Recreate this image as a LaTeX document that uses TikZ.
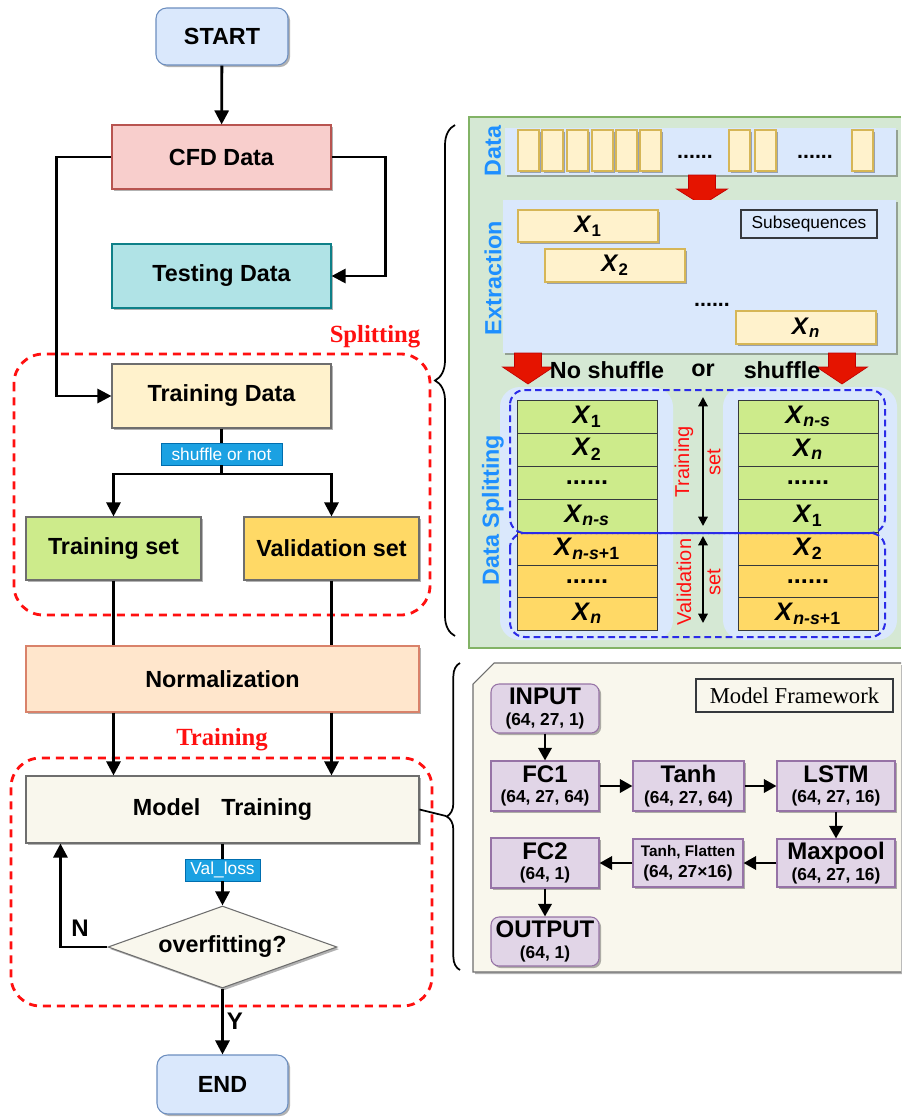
\documentclass[tikz,border=0pt]{standalone}
\usepackage{fontspec}
\setmainfont{Liberation Sans}
\newfontfamily\seriffam{Liberation Serif}
\usetikzlibrary{arrows.meta,shadows,decorations.pathreplacing,shapes.geometric,calc}

\definecolor{startfill}{HTML}{DAE8FC}
\definecolor{startline}{HTML}{6C8EBF}
\definecolor{cfdfill}{HTML}{F8CECC}
\definecolor{cfdline}{HTML}{B85450}
\definecolor{testfill}{HTML}{B0E3E6}
\definecolor{testline}{HTML}{0E8088}
\definecolor{trdfill}{HTML}{FFF2CC}
\definecolor{trdline}{HTML}{D6B656}
\definecolor{greenfill}{HTML}{CDEB8B}
\definecolor{orangefill}{HTML}{FFD966}
\definecolor{normfill}{HTML}{FFE6CC}
\definecolor{normline}{HTML}{D9826A}
\definecolor{mtfill}{HTML}{F9F7ED}
\definecolor{grayline}{HTML}{6E6E6E}
\definecolor{tagfill}{HTML}{1BA1E2}
\definecolor{tagline}{HTML}{006EAF}
\definecolor{panelgreen}{HTML}{D5E8D4}
\definecolor{panelgreenline}{HTML}{82B366}
\definecolor{labelblue}{HTML}{1E8FFF}
\definecolor{redarrow}{HTML}{E51400}
\definecolor{redarrowline}{HTML}{C00000}
\definecolor{dashblue}{HTML}{2B2BE8}
\definecolor{purplefill}{HTML}{E1D5E7}
\definecolor{purpleline}{HTML}{9673A6}
\definecolor{darkline}{HTML}{36393D}
\definecolor{brightred}{HTML}{FF1010}

% subsequence symbol X with a subscript
\newcommand\xs[1]{\textit{X}\textsubscript{#1}}
% layer name in the framework boxes
\newcommand\bigword{\fontsize{18}{18}\selectfont\bfseries}
% box node spanning the corners (#3,#4)-(#5,#6): style, name, x1, y1, x2, y2, text
\newcommand\boxnode[7]{%
  \pgfmathsetmacro\bw{(#5-(#3))*0.75}%
  \pgfmathsetmacro\bh{(#6-(#4))*0.75}%
  \pgfmathsetmacro\bx{((#3)+(#5))/2}%
  \pgfmathsetmacro\by{((#4)+(#6))/2}%
  \node[#1, minimum width=\bw pt, minimum height=\bh pt] (#2) at (\bx,\by) {#7};}
% fat red block arrow: centre x, top y, neck y, tip y
\newcommand\fatarrow[4]{%
  \draw[fill=redarrow, draw=redarrowline, line width=0.5pt]
    (#1-13.5,#2) -- (#1+13.5,#2) -- (#1+13.5,#3) -- (#1+25.5,#3) -- (#1,#4)
    -- (#1-25.5,#3) -- (#1-13.5,#3) -- cycle;}

\tikzset{
  shade box/.style={drop shadow={shadow xshift=1.6pt,shadow yshift=-1.6pt,opacity=0.3,fill=black}},
  flowbox/.style={draw, line width=0.8pt, inner sep=0pt, shade box,
    font=\fontsize{17.5}{21}\selectfont\bfseries},
  tagbox/.style={draw=tagline, fill=tagfill, text=white, line width=0.6pt, inner sep=0pt,
    font=\fontsize{13}{15}\selectfont},
  decbox/.style={diamond, draw=grayline, fill=mtfill, line width=0.8pt, aspect=2.8,
    minimum width=171.75pt, minimum height=61.5pt, inner sep=1pt, shade box,
    font=\fontsize{17.5}{21}\selectfont\bfseries},
  conn/.style={line width=2.1pt},
  arr/.style={line width=2.1pt, -{Triangle[length=10.5pt,width=10.5pt]}},
  farr/.style={line width=2pt, -{Triangle[length=9.5pt,width=10pt]}},
  darr/.style={line width=1.5pt, {Triangle[length=7pt,width=7pt]}-{Triangle[length=7pt,width=7pt]}},
  reddash/.style={draw=brightred, line width=2.1pt, dash pattern=on 6pt off 4.5pt, rounded corners=22pt},
  bluedash/.style={draw=dashblue, line width=1.5pt, dash pattern=on 5pt off 3pt, rounded corners=11pt},
  redtitle/.style={text=brightred, font=\seriffam\fontsize{18.5}{21}\selectfont\bfseries},
  stripbox/.style={fill=startfill, draw=none, inner sep=0pt, shade box},
  cellbox/.style={fill=trdfill, draw=trdline, line width=0.8pt, inner sep=0pt, shade box},
  segbox/.style={fill=trdfill, draw=trdline, line width=0.8pt, inner sep=0pt, shade box,
    font=\fontsize{18}{20}\selectfont\bfseries},
  rowbox/.style={draw=darkline, line width=0.6pt, inner sep=0pt,
    font=\fontsize{19}{22}\selectfont\bfseries},
  bgblue/.style={fill=startfill, draw=none, rounded corners=15pt, inner sep=0pt},
  sidelabel/.style={rotate=90, text=labelblue, font=\fontsize{17.5}{21}\selectfont\bfseries},
  setlabel/.style={rotate=90, text=brightred, font=\fontsize{15}{18}\selectfont},
  fwbox/.style={draw=purpleline, fill=purplefill, line width=0.8pt, inner sep=0pt, shade box,
    align=center, font=\fontsize{13}{15.5}\selectfont\bfseries},
  dotword/.style={font=\fontsize{16}{18}\selectfont\bfseries, anchor=base},
  plainbold/.style={font=\fontsize{17.5}{21}\selectfont\bfseries},
}

\begin{document}
\begin{tikzpicture}[x=0.75pt,y=-0.75pt]
\useasboundingbox (0,0) rectangle (901,1118);
\fill[white] (0,0) rectangle (901,1118);

% ---------------- left flow chart ----------------
\draw[reddash] (14,354) rectangle (430,615);
\draw[reddash] (11,758) rectangle (432,1006);
\node[redtitle] (splittitle) at (375,337) {Splitting};
\node[redtitle] (traintitle) at (222,740) {Training};

\boxnode{flowbox, rounded corners=8pt, fill=startfill, draw=startline}{start}{156}{8}{288}{65}{START}
\boxnode{flowbox, fill=cfdfill, draw=cfdline}{cfd}{112}{125}{331}{189}{CFD Data}
\boxnode{flowbox, fill=testfill, draw=testline}{test}{112}{244}{331}{308}{Testing Data}
\boxnode{flowbox, fill=trdfill, draw=grayline}{trd}{112}{364}{331}{428}{Training Data}
\boxnode{tagbox}{shuf}{161}{443}{282}{465}{shuffle or not}
\boxnode{flowbox, fill=greenfill, draw=grayline}{trs}{26}{517}{201}{580}{Training set}
\boxnode{flowbox, fill=orangefill, draw=grayline}{vals}{244}{517}{419}{580}{Validation set}
\boxnode{flowbox, fill=normfill, draw=normline}{norm}{26}{646}{419}{712}{Normalization}
\boxnode{flowbox, fill=mtfill, draw=grayline}{mt}{26}{776}{419}{843}{Model\hspace{0.9em}Training}
\boxnode{tagbox}{vl}{185}{859}{260}{881}{Val\_loss}
\node[decbox] (dia) at (222.5,947) {overfitting?};
\boxnode{flowbox, rounded corners=8pt, fill=startfill, draw=startline}{end}{157}{1055}{288}{1114}{END}

\draw[arr] (start) -- (cfd);
\draw[arr] (cfd.west) -- ++(-55,0) |- (trd.west);
\draw[arr] (cfd.east) -- ++(54,0) |- (test.east);
\draw[conn] (trd) -- (shuf);
\coordinate (fork) at (221.5,474);
\draw[conn] (shuf) -- (fork);
\draw[arr] (fork) -| (trs.north);
\draw[arr] (fork) -| (vals.north);
\draw[conn] (trs.south) -- (trs.south |- norm.north);
\draw[conn] (vals.south) -- (vals.south |- norm.north);
\draw[arr] (norm.south -| trs.south) -- (mt.north -| trs.south);
\draw[arr] (norm.south -| vals.south) -- (mt.north -| vals.south);
\draw[conn] (mt) -- (vl);
\draw[arr] (vl) -- (dia);
\draw[arr] (dia.west) -| ($(mt.south west)+(35,0)$);
\draw[arr] (dia) -- (end);
\node[font=\fontsize{18}{20}\selectfont\bfseries] (nlab) at (80,928) {N};
\node[font=\fontsize{18}{20}\selectfont\bfseries] (ylab) at (235,1021) {Y};

% ---------------- braces ----------------
\draw[decorate, decoration={brace, amplitude=15pt}, line width=1.3pt] (455,636) -- (455,125);
\draw[decorate, decoration={brace, amplitude=10pt}, line width=1.3pt] (460,970) -- (460,663);
\coordinate (b2tip) at (446,816);
\draw[line width=1.3pt] (mt.east) -- (b2tip);

% ---------------- data preparation panel ----------------
\fill[panelgreen] (469,117) rectangle (901,648);
\draw[panelgreenline, line width=0.8pt] (901,117) -- (469,117) -- (469,648) -- (901,648);

\node[sidelabel] (datalab) at (493,151) {Data};
\boxnode{stripbox}{datastrip}{505}{128}{896}{175}{}
\foreach \cx [count=\i] in {518,542,567,592,616,640,729,755,852}
  {\boxnode{cellbox}{cell\i}{\cx}{130}{\cx+21}{171}{}}
\node[dotword] (dots1) at (695,158) {......};
\node[dotword] (dots2) at (815,158) {......};

\fatarrow{702}{175}{189}{205}

\node[sidelabel] (extrlab) at (493,278) {Extraction};
\boxnode{stripbox}{extr}{503}{200}{896}{353}{}
\boxnode{segbox}{sx1}{518}{210}{658}{242}{\xs{1}}
\boxnode{segbox}{sx2}{545}{249}{685}{282}{\xs{2}}
\node[dotword] (dots3) at (712,306) {......};
\boxnode{segbox}{sxn}{736}{311}{876}{344}{\xs{\itshape n}}
\boxnode{draw=darkline, line width=0.8pt, inner sep=0pt, font=\fontsize{13}{15}\selectfont}{subs}{741}{210}{877}{238}{Subsequences}

\boxnode{bgblue}{lbg}{500}{387}{673}{640}{}
\boxnode{bgblue}{rbg}{723}{387}{897}{640}{}

\fatarrow{528}{353}{367}{384}
\fatarrow{842}{353}{367}{384}
\node[plainbold] (noshuf) at (607,370) {No shuffle};
\node[plainbold] (orword) at (703,370) {or};
\node[plainbold] (shufword) at (782,370) {shuffle};

\foreach \y/\c/\t [count=\i] in {
    400/greenfill/{\xs{1}}, 433/greenfill/{\xs{2}}, 466/greenfill/{......},
    499/greenfill/{\xs{\itshape n-s}}, 532/orangefill/{\xs{{\itshape n-s}+1}},
    565/orangefill/{......}, 597/orangefill/{\xs{\itshape n}}}
  {\boxnode{rowbox, fill=\c}{L\i}{517}{\y}{657}{\y+33}{\t}}
\foreach \y/\c/\t [count=\i] in {
    400/greenfill/{\xs{\itshape n-s}}, 433/greenfill/{\xs{\itshape n}}, 466/greenfill/{......},
    499/greenfill/{\xs{1}}, 532/orangefill/{\xs{2}},
    565/orangefill/{......}, 597/orangefill/{\xs{{\itshape n-s}+1}}}
  {\boxnode{rowbox, fill=\c}{R\i}{738}{\y}{878}{\y+33}{\t}}

\draw[bluedash] (510,390) rectangle (885,533);
\draw[bluedash] (510,533) rectangle (885,637);

\coordinate (ta) at (703,397);
\coordinate (tb) at (703,526);
\coordinate (va) at (703,536);
\coordinate (vb) at (703,623);
\draw[darr] (ta) -- (tb);
\draw[darr] (va) -- (vb);
\node[setlabel] (trlab) at (684,462) {Training};
\node[setlabel] (trset) at (714,462) {set};
\node[setlabel] (valab) at (684,582) {Validation};
\node[setlabel] (vaset) at (714,582) {set};

\node[sidelabel] (splitlab) at (493,510) {Data Splitting};

% ---------------- model framework panel ----------------
\path[fill=mtfill, drop shadow={shadow xshift=1.6pt,shadow yshift=-1.6pt,opacity=0.3,fill=black}]
  (901,663) -- (494,663) -- (473,684) -- (473,972) -- (901,972) -- cycle;
\draw[grayline, line width=0.8pt] (901,663) -- (494,663) -- (473,684) -- (473,972) -- (901,972);

\boxnode{draw=darkline, line width=0.8pt, inner sep=0pt, font=\seriffam\fontsize{17}{20}\selectfont}{mf}{696}{679}{893}{712}{Model Framework}

\boxnode{fwbox, rounded corners=6pt}{inp}{491}{684}{599}{733}{{\bigword INPUT}\\(64, 27, 1)}
\boxnode{fwbox}{fc1}{491}{761}{599}{811}{{\bigword FC1}\\(64, 27, 64)}
\boxnode{fwbox}{tanh}{633}{761}{744}{811}{{\bigword Tanh}\\(64, 27, 64)}
\boxnode{fwbox}{lstm}{777}{761}{895}{811}{{\bigword LSTM}\\(64, 27, 16)}
\boxnode{fwbox}{fc2}{491}{838}{599}{888}{{\bigword FC2}\\(64, 1)}
\boxnode{fwbox}{tf}{633}{839}{743}{887}{{\fontsize{11.5}{13}\selectfont Tanh, Flatten}\\(64, 27×16)}
\boxnode{fwbox}{maxp}{777}{839}{895}{887}{{\bigword Maxpool}\\(64, 27, 16)}
\boxnode{fwbox, rounded corners=6pt}{outp}{491}{917}{599}{966}{{\bigword OUTPUT}\\(64, 1)}

\draw[farr] (inp) -- (fc1);
\draw[farr] (fc1) -- (tanh);
\draw[farr] (tanh) -- (lstm);
\draw[farr] (lstm) -- (maxp);
\draw[farr] (maxp) -- (tf);
\draw[farr] (tf) -- (fc2);
\draw[farr] (fc2) -- (outp);
\end{tikzpicture}
\end{document}
